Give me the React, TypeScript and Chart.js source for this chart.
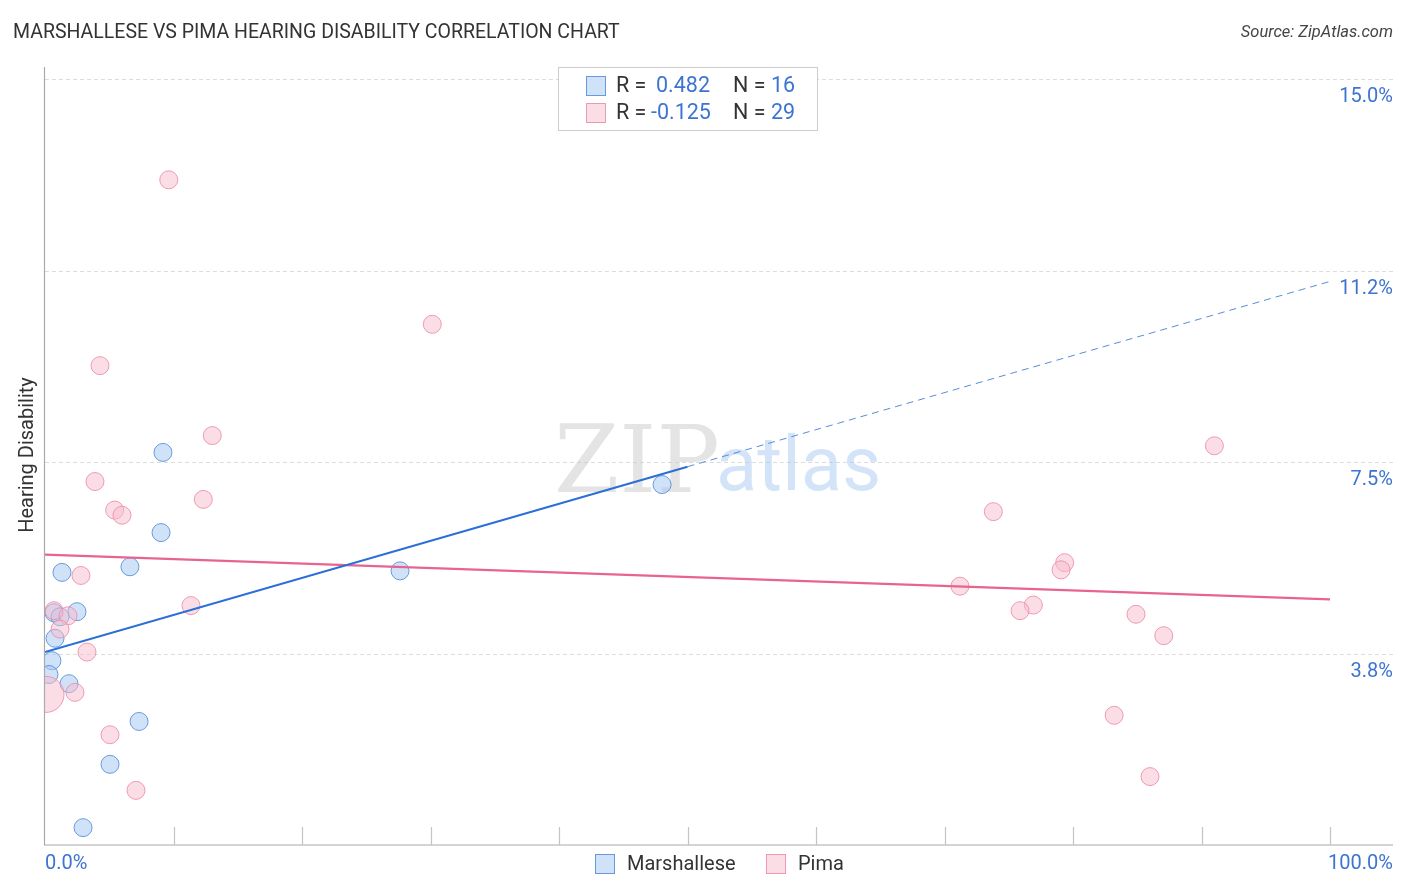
import React, { useEffect, useRef } from "react";
import { Chart, registerables } from "chart.js";

Chart.register(...registerables);

const marshalleseX = [9.18, 9.03, 6.61, 1.32, 27.63, 48.02, 2.49, 0.7, 1.17, 0.78, 0.54, 0.31, 1.87, 7.32, 5.06, 2.96];
const marshalleseY = [7.69, 6.12, 5.45, 5.34, 5.37, 7.06, 4.57, 4.55, 4.47, 4.05, 3.61, 3.34, 3.16, 2.42, 1.58, 0.34];

const pimaX = [9.63, 30.14, 4.28, 13.02, 3.89, 12.32, 5.42, 5.99, 2.8, 11.36, 0.7, 1.79, 1.17, 3.27, 0.08, 2.33, 5.06, 7.08, 91.0, 73.8, 79.35, 79.07, 71.2, 76.91, 75.88, 84.9, 87.06, 83.2, 85.99];
const pimaY = [13.03, 10.2, 9.39, 8.02, 7.12, 6.77, 6.56, 6.46, 5.28, 4.69, 4.59, 4.49, 4.23, 3.78, 2.95, 2.99, 2.16, 1.07, 7.82, 6.53, 5.53, 5.39, 5.07, 4.7, 4.59, 4.52, 4.1, 2.54, 1.34];
const pimaWeights = [1, 1, 1, 1, 1, 1, 1, 1, 1, 1, 1, 1, 1, 1, 2, 1, 1, 1, 1, 1, 1, 1, 1, 1, 1, 1, 1, 1, 1];

const blueTrendX = [0, 50, 100];
const blueTrendY = [3.78, 7.41, 11.04];
const pinkTrendX = [0, 100];
const pinkTrendY = [5.69, 4.81];

const yTickValues = [3.75, 7.5, 11.25, 15];
const yTickLabels = ["3.8%", "7.5%", "11.2%", "15.0%"];
const xTickValues = [10, 20, 30, 40, 50, 60, 70, 80, 90, 100];
const xEndLabels = ["0.0%", "100.0%"];

const legendRows = [
  { r: "0.482", n: "16" },
  { r: "-0.125", n: "29" },
];
const seriesNames = ["Marshallese", "Pima"];

const FONT = "Roboto, 'Open Sans', sans-serif";
const BLUE_FILL = "rgba(168,202,242,0.55)";
const BLUE_BORDER = "rgba(90,145,220,0.9)";
const PINK_FILL = "rgba(248,188,206,0.5)";
const PINK_BORDER = "rgba(236,140,170,0.85)";
const BLUE_LINE = "#2b6fd6";
const PINK_LINE = "#e8648f";
const LABEL_BLUE = "#3d74d0";

const decorPlugin = {
  id: "decor",
  beforeDatasetsDraw(chart: any) {
    const { ctx, chartArea, scales } = chart;
    const ys = scales.y;
    ctx.save();
    ctx.strokeStyle = "#dcdcdc";
    ctx.lineWidth = 1;
    ctx.setLineDash([4, 3]);
    yTickValues.forEach((v) => {
      const y = Math.round(ys.getPixelForValue(v)) + 0.5;
      ctx.beginPath();
      ctx.moveTo(chartArea.left, y);
      ctx.lineTo(chartArea.right, y);
      ctx.stroke();
    });
    ctx.setLineDash([]);
    ctx.textBaseline = "alphabetic";
    ctx.textAlign = "left";
    ctx.font = "94px 'DejaVu Serif', 'Liberation Serif', serif";
    ctx.fillStyle = "rgba(195,195,195,0.45)";
    ctx.fillText("ZIP", 554, 492);
    ctx.font = "76px " + FONT;
    ctx.fillStyle = "rgba(160,195,240,0.45)";
    ctx.fillText("atlas", 716, 490);
    ctx.restore();
  },
  afterDraw(chart: any) {
    const { ctx, chartArea, scales } = chart;
    const xs = scales.x;
    const ys = scales.y;
    ctx.save();
    ctx.strokeStyle = "#aaaaaa";
    ctx.lineWidth = 1.2;
    ctx.beginPath();
    ctx.moveTo(chartArea.left - 0.5, chartArea.top);
    ctx.lineTo(chartArea.left - 0.5, chartArea.bottom);
    ctx.lineTo(chartArea.right, chartArea.bottom);
    ctx.stroke();
    ctx.strokeStyle = "#c4c4c4";
    xTickValues.forEach((v) => {
      const x = Math.round(xs.getPixelForValue(v)) + 0.5;
      ctx.beginPath();
      ctx.moveTo(x, chartArea.bottom);
      ctx.lineTo(x, chartArea.bottom - 18);
      ctx.stroke();
    });
    ctx.fillStyle = LABEL_BLUE;
    ctx.font = "20px " + FONT;
    ctx.textAlign = "right";
    ctx.textBaseline = "middle";
    yTickValues.forEach((v, i) => {
      ctx.fillText(yTickLabels[i], chartArea.right, ys.getPixelForValue(v) + 18);
    });
    ctx.textAlign = "left";
    ctx.fillText(xEndLabels[0], chartArea.left, 864);
    ctx.textAlign = "right";
    ctx.fillText(xEndLabels[1], chartArea.right, 864);
    ctx.fillStyle = "#333333";
    ctx.font = "19.5px " + FONT;
    ctx.textAlign = "left";
    ctx.fillText("MARSHALLESE VS PIMA HEARING DISABILITY CORRELATION CHART", 13, 33);
    ctx.font = "italic 16.5px " + FONT;
    ctx.textAlign = "right";
    ctx.fillStyle = "#444444";
    ctx.fillText("Source: ZipAtlas.com", 1393, 33);
    ctx.save();
    ctx.translate(28, 455);
    ctx.rotate(-Math.PI / 2);
    ctx.textAlign = "center";
    ctx.fillStyle = "#333333";
    ctx.font = "20px " + FONT;
    ctx.fillText("Hearing Disability", 0, 0);
    ctx.restore();
    ctx.fillStyle = "#ffffff";
    ctx.fillRect(558, 67, 259, 63);
    ctx.strokeStyle = "#cccccc";
    ctx.lineWidth = 1;
    ctx.strokeRect(558.5, 67.5, 259, 63);
    const fills = [BLUE_FILL, PINK_FILL];
    const borders = [BLUE_BORDER, PINK_BORDER];
    legendRows.forEach((row, i) => {
      const cy = 86 + i * 27;
      ctx.fillStyle = fills[i];
      ctx.fillRect(586, cy - 10, 20, 20);
      ctx.strokeStyle = borders[i];
      ctx.strokeRect(586.5, cy - 9.5, 19, 19);
      ctx.font = "21.5px " + FONT;
      ctx.textAlign = "left";
      ctx.fillStyle = "#333333";
      ctx.fillText("R =", 616, cy + 1);
      ctx.fillStyle = LABEL_BLUE;
      ctx.fillText(row.r, i === 0 ? 656 : 651, cy + 1);
      ctx.fillStyle = "#333333";
      ctx.fillText("N =", 733, cy + 1);
      ctx.fillStyle = LABEL_BLUE;
      ctx.fillText(row.n, 771, cy + 1);
    });
    const bx = [595, 766];
    seriesNames.forEach((name, i) => {
      ctx.fillStyle = fills[i];
      ctx.fillRect(bx[i], 854, 20, 20);
      ctx.strokeStyle = borders[i];
      ctx.strokeRect(bx[i] + 0.5, 854.5, 19, 19);
      ctx.fillStyle = "#333333";
      ctx.font = "20px " + FONT;
      ctx.textAlign = "left";
      ctx.fillText(name, bx[i] + 32, 865);
    });
    ctx.restore();
  },
};

export default function App() {
  const ref = useRef<HTMLCanvasElement | null>(null);
  useEffect(() => {
    document.body.style.margin = "0";
    const canvas = ref.current;
    if (!canvas) return;
    const chart = new Chart(canvas, {
      type: "scatter",
      data: {
        datasets: [
          {
            type: "line",
            data: blueTrendX.slice(0, 2).map((x, i) => ({ x, y: blueTrendY[i] })),
            borderColor: BLUE_LINE,
            borderWidth: 2.2,
            pointRadius: 0,
            fill: false,
          } as any,
          {
            type: "line",
            data: blueTrendX.slice(1).map((x, i) => ({ x, y: blueTrendY[i + 1] })),
            borderColor: "rgba(60,120,210,0.85)",
            borderWidth: 1,
            borderDash: [7, 5],
            pointRadius: 0,
            fill: false,
          } as any,
          {
            type: "line",
            data: pinkTrendX.map((x, i) => ({ x, y: pinkTrendY[i] })),
            borderColor: PINK_LINE,
            borderWidth: 2.2,
            pointRadius: 0,
            fill: false,
          } as any,
          {
            label: seriesNames[1],
            data: pimaX.map((x, i) => ({ x, y: pimaY[i] })),
            backgroundColor: PINK_FILL,
            borderColor: PINK_BORDER,
            borderWidth: 1,
            pointRadius: (c: any) => 9 * (pimaWeights[c.dataIndex] || 1),
          },
          {
            label: seriesNames[0],
            data: marshalleseX.map((x, i) => ({ x, y: marshalleseY[i] })),
            backgroundColor: BLUE_FILL,
            borderColor: BLUE_BORDER,
            borderWidth: 1,
            pointRadius: 9,
          },
        ],
      },
      options: {
        animation: false,
        responsive: false,
        devicePixelRatio: 1,
        layout: { autoPadding: false, padding: { left: 45, top: 67, right: 13, bottom: 47 } },
        plugins: { legend: { display: false }, title: { display: false }, tooltip: { enabled: false } },
        scales: {
          x: { type: "linear", min: 0, max: 104.9, display: false },
          y: { type: "linear", min: 0, max: 15.24, display: false },
        },
      },
      plugins: [decorPlugin],
    });
    return () => chart.destroy();
  }, []);
  return <canvas ref={ref} width={1406} height={892} style={{ display: "block" }} />;
}
